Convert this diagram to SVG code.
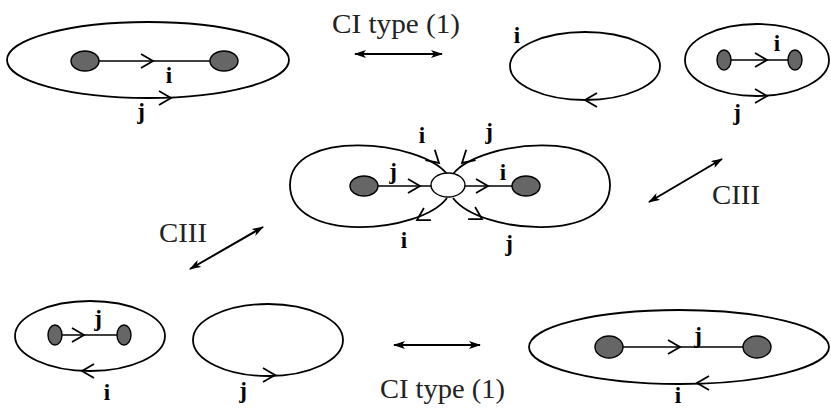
<svg xmlns="http://www.w3.org/2000/svg" xmlns:xlink="http://www.w3.org/1999/xlink" width="831" height="409" viewBox="0 0 831 409">
<style>
.loop{fill:none;stroke:#000;stroke-width:1.8}
.edge{fill:none;stroke:#000;stroke-width:1.6}
.node{fill:#666;stroke:#000;stroke-width:1.4}
.hub{fill:#fff;stroke:#000;stroke-width:1.4}
.lbl{font-family:"Liberation Serif","Times New Roman",serif;font-weight:bold;font-size:23px;fill:#000;text-anchor:middle}
.cap{font-family:"Liberation Serif","Times New Roman",serif;font-size:27px;fill:#222}
.dbl{fill:none;stroke:#000;stroke-width:2;marker-start:url(#ah);marker-end:url(#ah)}
</style>
<defs>
<path id="ch" d="M-12,-7 L0,0 L-12,7" fill="none" stroke="#000" stroke-width="1.8"/>
<marker id="ah" viewBox="0 0 12 8" refX="11" refY="4" markerWidth="12" markerHeight="8" markerUnits="userSpaceOnUse" orient="auto-start-reverse">
<path d="M0,0 L12,4 L0,8 L3,4 z" fill="#000"/>
</marker>
</defs>

<g id="fig-top-left">
<ellipse class="loop" cx="148" cy="60" rx="141" ry="38"/>
<line class="edge" x1="99" y1="61" x2="210" y2="61"/>
<use xlink:href="#ch" transform="translate(153,61)"/>
<use xlink:href="#ch" transform="translate(171,98)"/>
<ellipse class="node" cx="85" cy="61" rx="14" ry="10"/>
<ellipse class="node" cx="224" cy="61" rx="14" ry="10"/>
<text class="lbl" x="169" y="83">i</text>
<text class="lbl" x="141" y="119">j</text>
</g>

<g id="fig-top-mid">
<ellipse class="loop" cx="585" cy="66" rx="75" ry="34"/>
<use xlink:href="#ch" transform="translate(585,100) rotate(180)"/>
<text class="lbl" x="517" y="43">i</text>
</g>

<g id="fig-top-right">
<ellipse class="loop" cx="757" cy="60" rx="72" ry="36"/>
<line class="edge" x1="731" y1="60" x2="788" y2="60"/>
<use xlink:href="#ch" transform="translate(767,60)"/>
<use xlink:href="#ch" transform="translate(767,96)"/>
<ellipse class="node" cx="724" cy="60" rx="7" ry="10"/>
<ellipse class="node" cx="795" cy="60" rx="7" ry="10"/>
<text class="lbl" x="777" y="51">i</text>
<text class="lbl" x="737" y="120">j</text>
</g>

<g id="fig-center">
<path class="loop" d="M447,174 C420,140 290,128 290,185 C290,244 420,234 447,198"/>
<path class="loop" d="M453,174 C480,140 610,128 610,185 C610,244 480,234 453,198"/>
<line class="edge" x1="364" y1="186" x2="432" y2="186"/>
<line class="edge" x1="465" y1="186" x2="526" y2="186"/>
<use xlink:href="#ch" transform="translate(420,186)"/>
<use xlink:href="#ch" transform="translate(488,186)"/>
<use xlink:href="#ch" transform="translate(439,163) rotate(42)"/>
<use xlink:href="#ch" transform="translate(417,220) rotate(150)"/>
<use xlink:href="#ch" transform="translate(462,163) rotate(138)"/>
<use xlink:href="#ch" transform="translate(482,219) rotate(30)"/>
<ellipse class="node" cx="364" cy="186" rx="14" ry="10"/>
<ellipse class="node" cx="526" cy="186" rx="14" ry="10"/>
<ellipse class="hub" cx="448" cy="185" rx="17" ry="12"/>
<text class="lbl" x="422" y="143">i</text>
<text class="lbl" x="489" y="139">j</text>
<text class="lbl" x="393" y="179">j</text>
<text class="lbl" x="503" y="180">i</text>
<text class="lbl" x="404" y="248">i</text>
<text class="lbl" x="509" y="251">j</text>
</g>

<g id="fig-bottom-left">
<ellipse class="loop" cx="90" cy="336" rx="75" ry="35"/>
<line class="edge" x1="62" y1="335" x2="117" y2="335"/>
<use xlink:href="#ch" transform="translate(84,335)"/>
<use xlink:href="#ch" transform="translate(82,371) rotate(180)"/>
<ellipse class="node" cx="55" cy="335" rx="7" ry="10"/>
<ellipse class="node" cx="124" cy="335" rx="7" ry="10"/>
<text class="lbl" x="98" y="326">j</text>
<text class="lbl" x="107" y="400">i</text>
</g>

<g id="fig-bottom-mid">
<ellipse class="loop" cx="268" cy="340" rx="75" ry="36"/>
<use xlink:href="#ch" transform="translate(275,375)"/>
<text class="lbl" x="243" y="398">j</text>
</g>

<g id="fig-bottom-right">
<ellipse class="loop" cx="679" cy="347" rx="150" ry="37"/>
<line class="edge" x1="623" y1="347" x2="743" y2="347"/>
<use xlink:href="#ch" transform="translate(680,347)"/>
<use xlink:href="#ch" transform="translate(697,383) rotate(180)"/>
<ellipse class="node" cx="609" cy="347" rx="14" ry="11"/>
<ellipse class="node" cx="757" cy="347" rx="14" ry="11"/>
<text class="lbl" x="698" y="343">j</text>
<text class="lbl" x="678" y="403">i</text>
</g>

<g id="connectors">
<line class="dbl" x1="355" y1="54" x2="442" y2="54"/>
<line class="dbl" x1="394" y1="345" x2="480" y2="345"/>
<line class="dbl" x1="190" y1="269" x2="263" y2="227"/>
<line class="dbl" x1="649" y1="202" x2="722" y2="159"/>
<text class="cap" x="332" y="33" font-size="25" textLength="128" lengthAdjust="spacingAndGlyphs">CI type (1)</text>
<text class="cap" x="380" y="398" font-size="25" textLength="125" lengthAdjust="spacingAndGlyphs">CI type (1)</text>
<text class="cap" x="159" y="242" textLength="48" lengthAdjust="spacingAndGlyphs">CIII</text>
<text class="cap" x="712" y="204" textLength="48" lengthAdjust="spacingAndGlyphs">CIII</text>
</g>
</svg>
